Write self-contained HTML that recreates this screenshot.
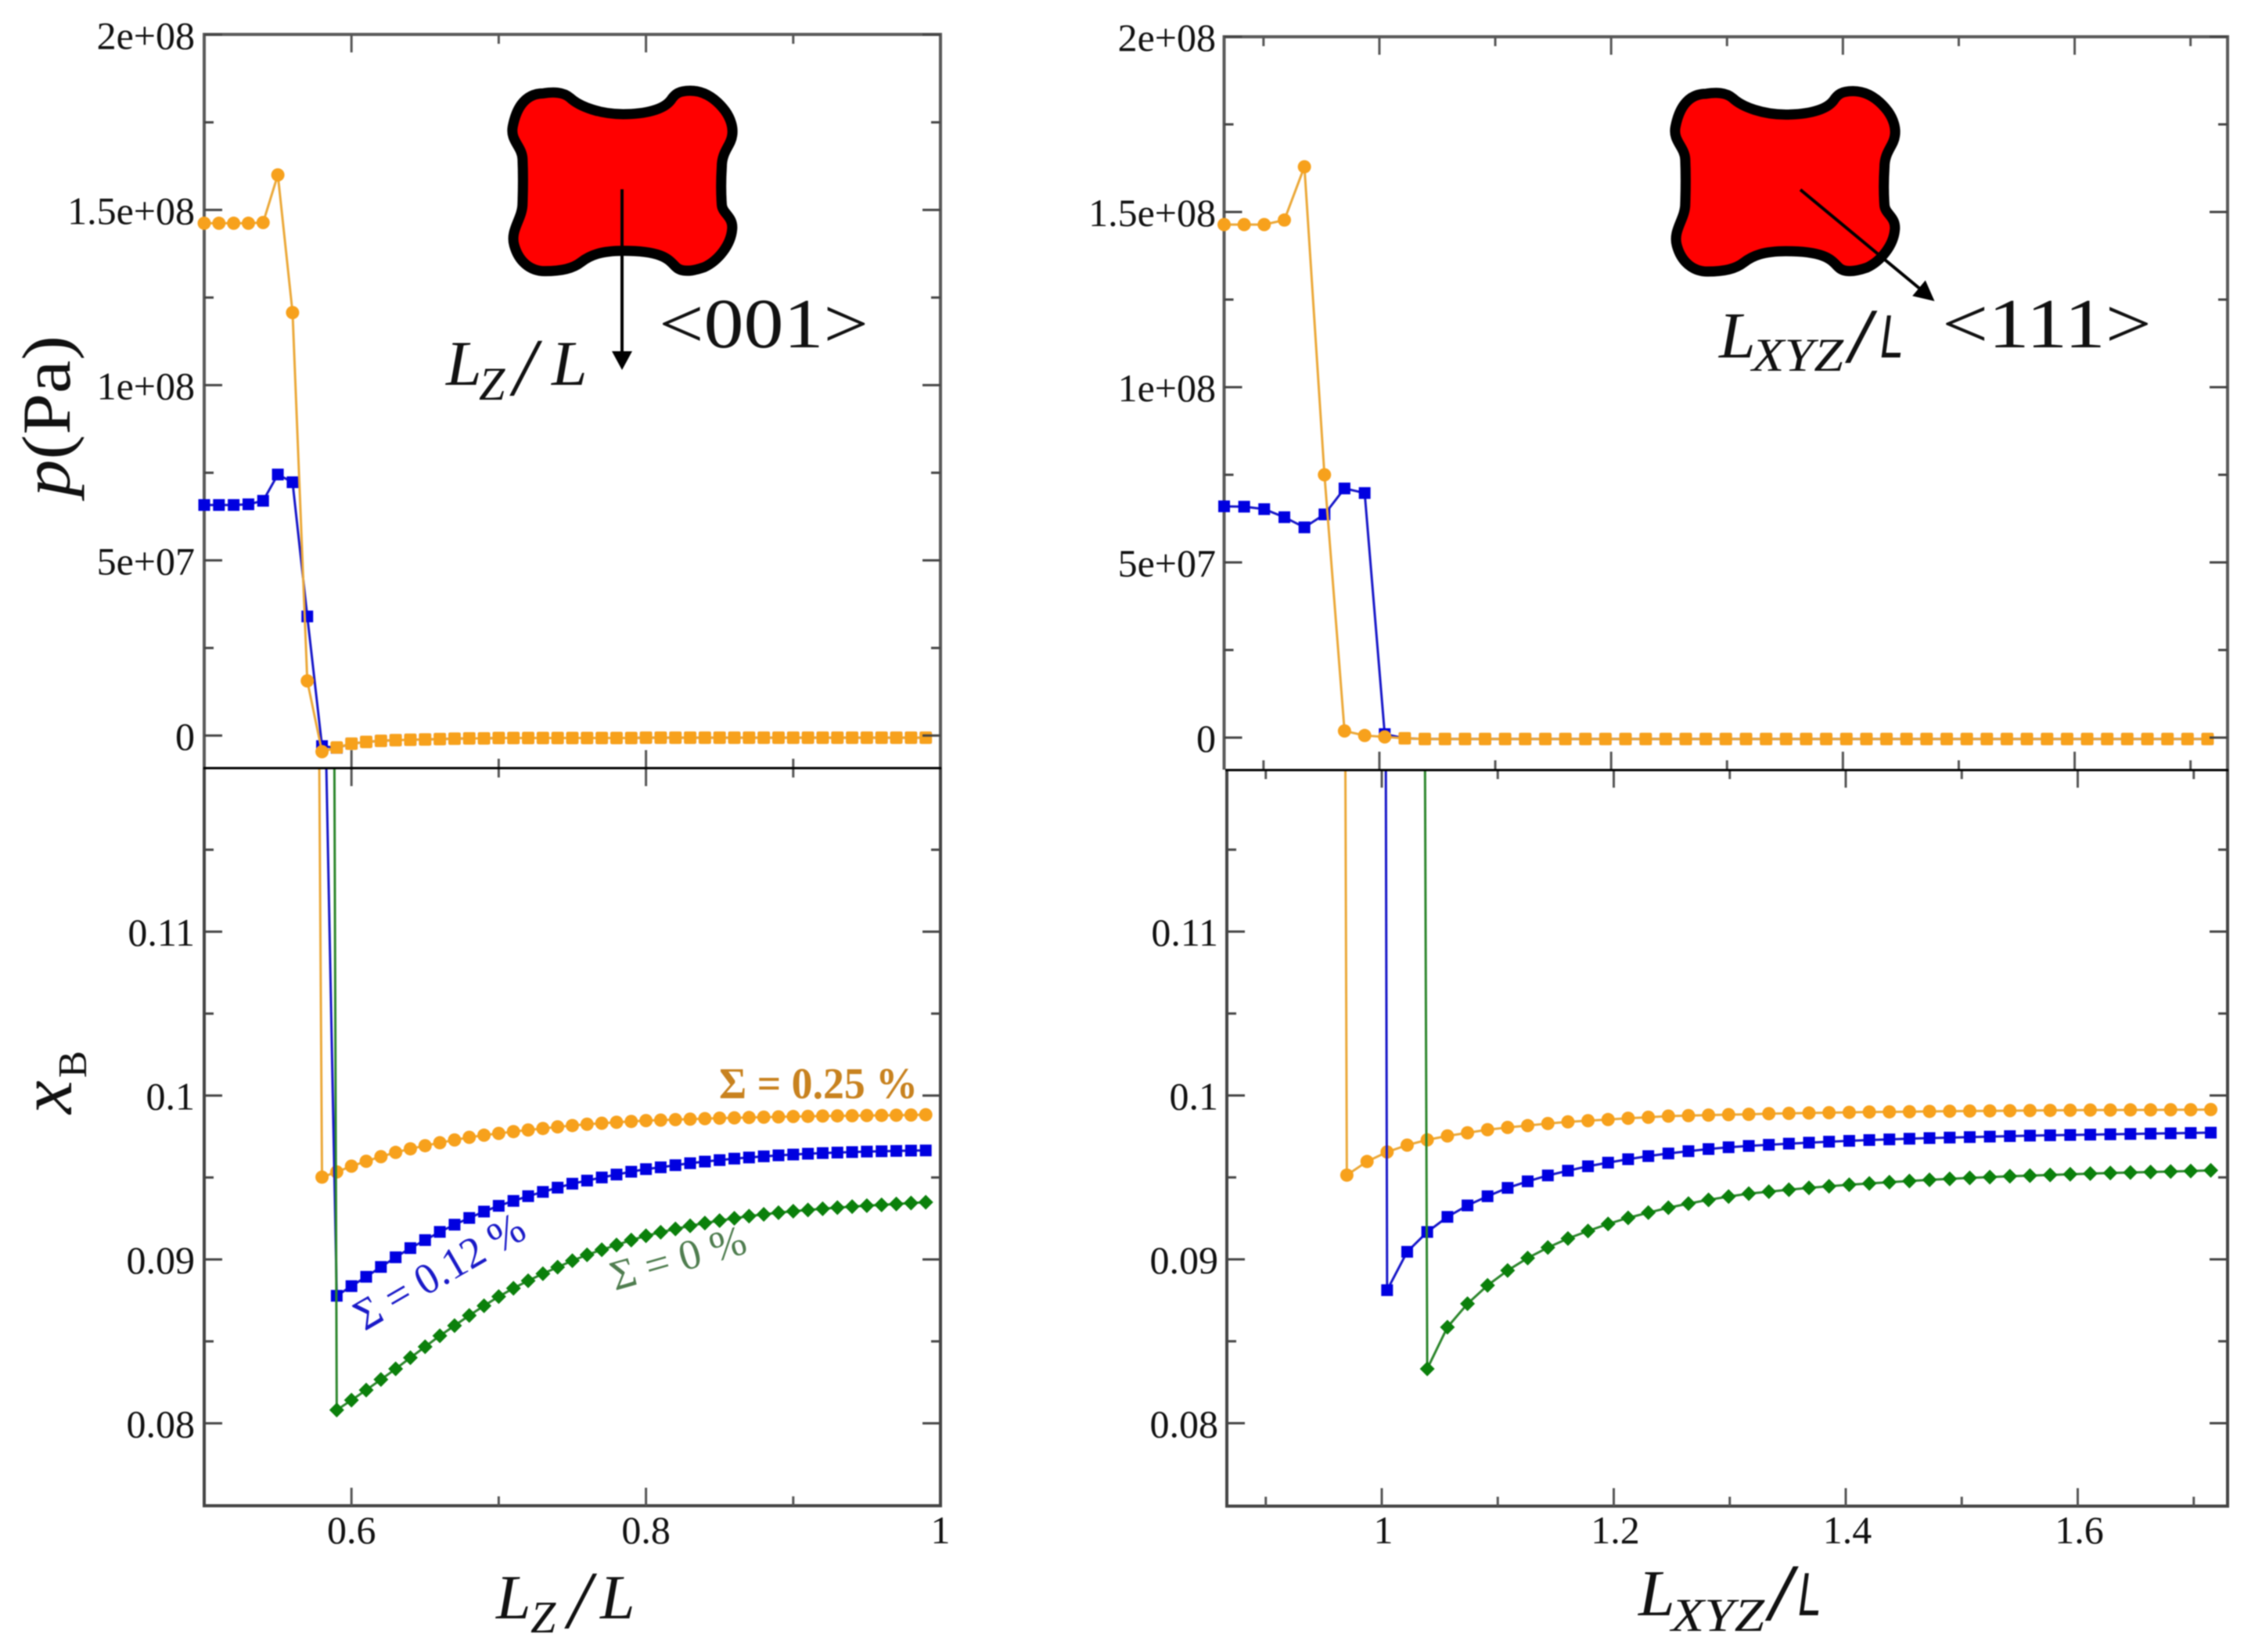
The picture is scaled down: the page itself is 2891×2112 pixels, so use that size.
<!DOCTYPE html>
<html lang="en">
<head>
<meta charset="utf-8">
<title>Pressure and composition profiles</title>
<style>
html,body{margin:0;padding:0;background:#fff;width:2891px;height:2112px;overflow:hidden}
svg{display:block;filter:blur(0.9px)}
text{font-family:"Liberation Serif",serif;fill:#111}
.it{font-style:italic}
</style>
</head>
<body>
<svg id="chart" xmlns="http://www.w3.org/2000/svg" width="2891" height="2112" viewBox="0 0 2891 2112">
  <defs>
    <clipPath id="clipUL"><rect x="240" y="44" width="980" height="938"/></clipPath>
    <clipPath id="clipLL"><rect x="240" y="982" width="980" height="960"/></clipPath>
    <clipPath id="clipUR"><rect x="1545" y="47" width="1320" height="937"/></clipPath>
    <clipPath id="clipLR"><rect x="1545" y="984" width="1320" height="960"/></clipPath>
  </defs>
  <rect x="0" y="0" width="2891" height="2112" fill="#fff"/>

  <g id="frames" fill="none">
    <path d="M261 982V44H1202V982" stroke="#5a5a5a" stroke-width="4"/>
    <path d="M261 982V1925H1202V982" stroke="#444" stroke-width="4"/>
    <path d="M1564.5 984V47H2847V984" stroke="#5a5a5a" stroke-width="4"/>
    <path d="M1568 984V1925.5H2847V984" stroke="#444" stroke-width="4"/>
  </g>

  <g id="marks"></g>
  <g id="ticks"></g>
  <g id="ticklabels" font-size="50"></g>

  <path d="M260 982H1203" stroke="#000" stroke-width="3"/>
  <path d="M1566 984.5H2848" stroke="#000" stroke-width="3"/>

  <!-- precipitate shapes -->
  <g transform="translate(600,80) scale(0.35714,0.33333)">
    <path id="blob" d="M265 118C300 112 335 112 360 135C395 170 470 198 550 198C630 198 695 180 720 145C735 120 750 108 790 108C850 108 890 150 915 185C935 215 945 250 940 280C935 320 903 340 903 400C900 450 900 500 903 545C905 580 945 590 940 640C935 700 890 760 840 785C800 800 760 805 740 785C715 760 700 722 550 722C470 722 430 740 400 765C370 790 330 800 270 800C215 800 175 760 160 700C145 640 190 600 190 540C192 480 192 420 190 370C188 320 145 300 155 245C165 190 190 118 265 118Z" fill="#ff0000" stroke="#000" stroke-width="13" vector-effect="non-scaling-stroke"/>
  </g>
  <g transform="translate(2086,80.5) scale(0.35714,0.33333)">
    <path d="M265 118C300 112 335 112 360 135C395 170 470 198 550 198C630 198 695 180 720 145C735 120 750 108 790 108C850 108 890 150 915 185C935 215 945 250 940 280C935 320 903 340 903 400C900 450 900 500 903 545C905 580 945 590 940 640C935 700 890 760 840 785C800 800 760 805 740 785C715 760 700 722 550 722C470 722 430 740 400 765C370 790 330 800 270 800C215 800 175 760 160 700C145 640 190 600 190 540C192 480 192 420 190 370C188 320 145 300 155 245C165 190 190 118 265 118Z" fill="#ff0000" stroke="#000" stroke-width="13" vector-effect="non-scaling-stroke"/>
  </g>

  <g>
    <path d="M798 242V455" stroke="#000" stroke-width="4" fill="none" transform="translate(-3,0)"/>
    <polygon points="782,449 808,449 795,473" fill="#000"/>
  </g>
  <g>
    <path d="M2301 242.5L2456 371" stroke="#000" stroke-width="4" fill="none"/>
    <polygon points="2460.8,358.4 2444.2,378.4 2472.5,385" fill="#000"/>
  </g>

  <!-- inset labels -->
  <text x="842" y="444" font-size="90" textLength="268" lengthAdjust="spacingAndGlyphs">&lt;001&gt;</text>
  <text x="2482" y="444" font-size="90" textLength="268" lengthAdjust="spacingAndGlyphs">&lt;111&gt;</text>

  <g>
    <text class="it" x="570" y="492" font-size="82">L</text>
    <text class="it" x="612" y="511" font-size="60">Z</text>
    <text class="it" x="656" y="505" font-size="105">/</text>
    <text class="it" x="705" y="492" font-size="82">L</text>
  </g>
  <g>
    <text class="it" x="2197" y="457" font-size="84">L</text>
    <text class="it" x="2239" y="474" font-size="60" textLength="117" lengthAdjust="spacingAndGlyphs">XYZ</text>
    <text class="it" x="2364" y="463" font-size="100" font-weight="bold">/</text>
    <text x="2403" y="457" font-size="78" textLength="30" lengthAdjust="spacingAndGlyphs" style="font-family:'Liberation Sans',sans-serif;font-style:italic">L</text>
  </g>

  <!-- axis titles -->
  <text transform="translate(89,635) rotate(-90)" font-size="88" textLength="206" lengthAdjust="spacingAndGlyphs"><tspan class="it" font-style="italic">p</tspan><tspan>(Pa)</tspan></text>
  <g>
    <text class="it" transform="translate(91,1424) rotate(-90)" font-size="96">x</text>
    <text transform="translate(110,1378) rotate(-90)" font-size="52">B</text>
  </g>
  <g>
    <text class="it" x="634" y="2069" font-size="80">L</text>
    <text class="it" x="678" y="2087" font-size="58">Z</text>
    <text class="it" x="726" y="2081" font-size="105">/</text>
    <text class="it" x="767" y="2069" font-size="80">L</text>
  </g>
  <g>
    <text class="it" x="2094" y="2065" font-size="84">L</text>
    <text class="it" x="2136" y="2085" font-size="60" textLength="119" lengthAdjust="spacingAndGlyphs">XYZ</text>
    <text class="it" x="2262" y="2071" font-size="104" font-weight="bold">/</text>
    <text x="2298" y="2065" font-size="78" textLength="30" lengthAdjust="spacingAndGlyphs" style="font-family:'Liberation Sans',sans-serif;font-style:italic">L</text>
  </g>

  <!-- series annotations -->
  <text x="919" y="1404" font-size="56" font-weight="bold" textLength="254" lengthAdjust="spacingAndGlyphs" style="fill:#c8821f">Σ = 0.25 %</text>
  <text transform="translate(466,1702) rotate(-30)" font-size="56" textLength="242" lengthAdjust="spacingAndGlyphs" style="fill:#1a1ac8">Σ = 0.12 %</text>
  <text transform="translate(786,1650) rotate(-16)" font-size="54" textLength="178" lengthAdjust="spacingAndGlyphs" style="fill:#4f7d4f">Σ = 0 %</text>
</svg>

<script>
/* x categories */
const lzCategories = [0.50,0.51,0.52,0.53,0.54,0.55,0.56,0.57,0.58,0.59,0.60,0.61,0.62,0.63,0.64,0.65,0.66,0.67,0.68,0.69,0.70,0.71,0.72,0.73,0.74,0.75,0.76,0.77,0.78,0.79,0.80,0.81,0.82,0.83,0.84,0.85,0.86,0.87,0.88,0.89,0.90,0.91,0.92,0.93,0.94,0.95,0.96,0.97,0.98,0.99];
const lxyzCategories = [0.866,0.8833,0.9006,0.9180,0.9353,0.9526,0.9699,0.9873,1.0046,1.0219,1.0392,1.0566,1.0739,1.0912,1.1085,1.1258,1.1432,1.1605,1.1778,1.1951,1.2124,1.2298,1.2471,1.2644,1.2817,1.2990,1.3164,1.3337,1.3510,1.3683,1.3856,1.4030,1.4203,1.4376,1.4549,1.4722,1.4896,1.5069,1.5242,1.5415,1.5588,1.5762,1.5935,1.6108,1.6281,1.6454,1.6628,1.6801,1.6974,1.7147];

/* pressure, in units of 1e6 Pa */
const pLzOrange = [146.2,146.2,146.2,146.2,146.4,160,120.7,15.6,-4.6,-3.4,-2.3,-1.8,-1.5,-1.3,-1.2,-1.1,-1,-0.9,-0.8,-0.8,-0.7,-0.7,-0.7,-0.7,-0.7,-0.7,-0.7,-0.7,-0.7,-0.7,-0.6,-0.6,-0.6,-0.6,-0.6,-0.6,-0.6,-0.6,-0.6,-0.6,-0.6,-0.6,-0.6,-0.6,-0.6,-0.6,-0.6,-0.6,-0.6,-0.6];
const pLzBlue = [65.8,65.8,65.8,66,67,74.5,72.3,34,-3,-3.5,-2.3,-1.8,-1.5,-1.3,-1.2,-1.1,-1,-0.9,-0.8,-0.8,-0.7,-0.7,-0.7,-0.7,-0.7,-0.7,-0.7,-0.7,-0.7,-0.7,-0.6,-0.6,-0.6,-0.6,-0.6,-0.6,-0.6,-0.6,-0.6,-0.6,-0.6,-0.6,-0.6,-0.6,-0.6,-0.6,-0.6,-0.6,-0.6,-0.6];
const pLxyzOrange = [146.4,146.4,146.4,147.7,162.9,75,1.9,0.6,0.2,-0.2,-0.4,-0.4,-0.4,-0.4,-0.4,-0.4,-0.4,-0.4,-0.4,-0.4,-0.4,-0.4,-0.4,-0.4,-0.4,-0.4,-0.4,-0.4,-0.4,-0.4,-0.4,-0.4,-0.4,-0.4,-0.4,-0.4,-0.4,-0.4,-0.4,-0.4,-0.4,-0.4,-0.4,-0.4,-0.4,-0.4,-0.4,-0.4,-0.4,-0.4];
const pLxyzBlue = [66,65.9,65.2,62.9,60,63.7,71.1,69.8,1,-0.2,-0.4,-0.4,-0.4,-0.4,-0.4,-0.4,-0.4,-0.4,-0.4,-0.4,-0.4,-0.4,-0.4,-0.4,-0.4,-0.4,-0.4,-0.4,-0.4,-0.4,-0.4,-0.4,-0.4,-0.4,-0.4,-0.4,-0.4,-0.4,-0.4,-0.4,-0.4,-0.4,-0.4,-0.4,-0.4,-0.4,-0.4,-0.4,-0.4,-0.4];

/* boron fraction */
const xbLzOrange = [null,null,null,null,null,null,null,0.23,0.09502,0.09534,0.09569,0.09599,0.09627,0.09653,0.09675,0.09694,0.09712,0.09729,0.09745,0.09758,0.09769,0.0978,0.0979,0.09799,0.09809,0.09817,0.09825,0.09831,0.09837,0.09842,0.09847,0.0985,0.09853,0.09856,0.09859,0.09862,0.09864,0.09866,0.09868,0.0987,0.09872,0.09873,0.09875,0.09876,0.09877,0.09878,0.09879,0.0988,0.09881,0.09883];
const xbLzBlue = [null,null,null,null,null,null,null,null,0.1334,0.08778,0.08837,0.08894,0.08954,0.09013,0.09069,0.09118,0.09168,0.09212,0.09253,0.09292,0.09327,0.09357,0.09386,0.09412,0.09438,0.09462,0.09481,0.095,0.09518,0.09535,0.09551,0.09562,0.09575,0.09587,0.09597,0.09606,0.09615,0.09622,0.09629,0.09635,0.0964,0.09645,0.09649,0.09652,0.09655,0.09658,0.0966,0.09662,0.09664,0.09665];
const xbLzGreen = [null,null,null,null,null,null,null,null,0.328,0.08081,0.08141,0.08203,0.08267,0.08332,0.084,0.08467,0.08534,0.08596,0.08658,0.08717,0.08773,0.08824,0.0887,0.08913,0.08953,0.08992,0.09028,0.09059,0.09088,0.09118,0.09144,0.09166,0.09186,0.09205,0.09222,0.09237,0.09251,0.09264,0.09275,0.09285,0.09294,0.09302,0.09309,0.09316,0.09322,0.09328,0.09333,0.09338,0.09344,0.09349];
const xbLxyzOrange = [null,null,null,null,null,0.43,0.09514,0.09597,0.09655,0.09697,0.09729,0.09753,0.09772,0.09791,0.09805,0.09816,0.09829,0.09839,0.09846,0.09853,0.09861,0.09867,0.09874,0.09877,0.0988,0.09883,0.09885,0.09889,0.09891,0.09893,0.09895,0.09897,0.09899,0.099,0.09901,0.09903,0.09904,0.09905,0.09906,0.09907,0.09908,0.09909,0.0991,0.09911,0.09911,0.09912,0.09912,0.09913,0.09913,0.09914];
const xbLxyzBlue = [null,null,null,null,null,null,null,0.59,0.08812,0.09046,0.09167,0.09259,0.09329,0.09385,0.09436,0.09476,0.09512,0.09541,0.09568,0.0959,0.09611,0.0963,0.09646,0.0966,0.09673,0.09684,0.09692,0.09699,0.09706,0.09712,0.09718,0.09723,0.09728,0.09732,0.09736,0.0974,0.09743,0.09746,0.09749,0.09752,0.09755,0.09757,0.09759,0.09761,0.09763,0.09765,0.09767,0.09769,0.09771,0.09773];
const xbLxyzGreen = [null,null,null,null,null,null,null,null,null,0.415,0.08332,0.08586,0.08729,0.08841,0.08932,0.09008,0.09072,0.09127,0.09173,0.09216,0.09253,0.09285,0.09315,0.0934,0.09363,0.09383,0.09401,0.09413,0.09425,0.09436,0.09446,0.09455,0.09463,0.09471,0.09478,0.09485,0.09491,0.09497,0.09502,0.09507,0.09511,0.09515,0.09519,0.09523,0.09527,0.0953,0.09533,0.09536,0.09539,0.09543];

/* ticks */
const pMajorTicks = [0,50,100,150,200];
const pMinorTicks = [25,75,125,175];
const pTickLabels = ['0','5e+07','1e+08','1.5e+08','2e+08'];
const xbMajorTicks = [0.08,0.09,0.1,0.11];
const xbMinorTicks = [0.085,0.095,0.105,0.115];
const xbTickLabels = ['0.08','0.09','0.1','0.11'];
const lzMajorTicks = [0.6,0.8];
const lzMinorTicks = [0.7,0.9];
const lzTickLabelValues = [0.6,0.8,1];
const lzTickLabels = ['0.6','0.8','1'];
const lxyzMajorTicks = [1,1.2,1.4,1.6];
const lxyzMinorTicks = [0.9,1.1,1.3,1.5,1.7];
const lxyzTickLabels = ['1','1.2','1.4','1.6'];

/* axis functions */
const xLzUpper = v => 261 + (v - 0.5) * 1882;
const xLzLower = v => 261 + (v - 0.5) * 1882;
const xLxyzUpper = v => 1564.5 + (v - 0.866) * 1481;
const xLxyzLower = v => 1766 + (v - 1) * 1482.5;
const yPLeft = v => 940.4 - v * 4.48;
const yPRight = v => 943 - v * 4.48;
const yXbLeft = v => 1819.6 - (v - 0.08) * 20950;
const yXbRight = v => 1819.5 - (v - 0.08) * 20950;

const NS = 'http://www.w3.org/2000/svg';
const marks = document.getElementById('marks');
const tickGroup = document.getElementById('ticks');
const labelGroup = document.getElementById('ticklabels');
const COLORS = { orange:'#f7a11c', blue:'#0000e0', green:'#0b800b' };
const LINES = { orange:'#eba838', blue:'#1616c8', green:'#2c862c' };

function make(tag, attrs, parent){
  const e = document.createElementNS(NS, tag);
  for (const k in attrs) e.setAttribute(k, attrs[k]);
  parent.appendChild(e);
  return e;
}

function drawMarker(group, kind, px, py, squareOrange){
  let m;
  if (kind === 'orange' && squareOrange) {
    m = make('rect', {x:px-8, y:py-8, width:16, height:16, rx:2.5, fill:COLORS.orange}, group);
  } else if (kind === 'orange') {
    m = make('circle', {cx:px, cy:py, r:8.5, fill:COLORS.orange}, group);
  } else if (kind === 'blue') {
    m = make('rect', {x:px-7.5, y:py-7.5, width:15, height:15, fill:COLORS.blue}, group);
  } else {
    m = make('polygon', {points:(px-9.5)+','+py+' '+px+','+(py-9.5)+' '+(px+9.5)+','+py+' '+px+','+(py+9.5), fill:COLORS.green}, group);
  }
  
  
}

function drawSeries(name, kind, xs, ys, xFn, yFn, clip, squareFrom){
  const g = make('g', {'clip-path':'url(#' + clip + ')'}, marks);
  
  
  let d = '';
  ys.forEach((v, i) => {
    if (v === null) return;
    d += (d ? 'L' : 'M') + xFn(xs[i]).toFixed(2) + ' ' + yFn(v).toFixed(2);
  });
  const line = make('path', {d:d, fill:'none', stroke:LINES[kind], 'stroke-width':3}, g);
  
  
  ys.forEach((v, i) => {
    if (v === null) return;
    drawMarker(g, kind, xFn(xs[i]), yFn(v), squareFrom !== undefined && i >= squareFrom);
  });
}

function tickLine(x1, y1, x2, y2, color){
  const t = make('line', {x1:x1, y1:y1, x2:x2, y2:y2, stroke:color, 'stroke-width':3}, tickGroup);
  
  
}

function label(txt, x, y, anchor){
  const t = make('text', {x:x, y:y, 'text-anchor':anchor}, labelGroup);
  t.textContent = txt;
  
  
}

function yTicks(majors, minors, yFn, left, right){
  const c = '#444';
  majors.forEach(v => { tickLine(left, yFn(v), left + 23, yFn(v), c); tickLine(right, yFn(v), right - 23, yFn(v), c); });
  minors.forEach(v => { tickLine(left, yFn(v), left + 12, yFn(v), c); tickLine(right, yFn(v), right - 12, yFn(v), c); });
}

function xTicks(majors, minors, xFn, y, dir){
  const c = '#555';
  majors.forEach(v => tickLine(xFn(v), y, xFn(v), y + dir * 23, c));
  minors.forEach(v => tickLine(xFn(v), y, xFn(v), y + dir * 12, c));
}

/* series: upper panels draw blue then orange; lower panels orange, blue, green */
drawSeries('pressure-lz-sigma-012', 'blue', lzCategories, pLzBlue, xLzUpper, yPLeft, 'clipUL');
drawSeries('pressure-lz-sigma-025', 'orange', lzCategories, pLzOrange, xLzUpper, yPLeft, 'clipUL', 9);
drawSeries('pressure-lxyz-sigma-012', 'blue', lxyzCategories, pLxyzBlue, xLxyzUpper, yPRight, 'clipUR');
drawSeries('pressure-lxyz-sigma-025', 'orange', lxyzCategories, pLxyzOrange, xLxyzUpper, yPRight, 'clipUR', 9);

drawSeries('xb-lz-sigma-025', 'orange', lzCategories, xbLzOrange, xLzLower, yXbLeft, 'clipLL');
drawSeries('xb-lz-sigma-012', 'blue', lzCategories, xbLzBlue, xLzLower, yXbLeft, 'clipLL');
drawSeries('xb-lz-sigma-0', 'green', lzCategories, xbLzGreen, xLzLower, yXbLeft, 'clipLL');
drawSeries('xb-lxyz-sigma-025', 'orange', lxyzCategories, xbLxyzOrange, xLxyzLower, yXbRight, 'clipLR');
drawSeries('xb-lxyz-sigma-012', 'blue', lxyzCategories, xbLxyzBlue, xLxyzLower, yXbRight, 'clipLR');
drawSeries('xb-lxyz-sigma-0', 'green', lxyzCategories, xbLxyzGreen, xLxyzLower, yXbRight, 'clipLR');

/* ticks */
yTicks(pMajorTicks, pMinorTicks, yPLeft, 261, 1202);
yTicks(pMajorTicks, pMinorTicks, yPRight, 1564.5, 2847);
yTicks(xbMajorTicks, xbMinorTicks, yXbLeft, 261, 1202);
yTicks(xbMajorTicks, xbMinorTicks, yXbRight, 1568, 2847);

xTicks(lzMajorTicks, lzMinorTicks, xLzUpper, 44, 1);
xTicks(lzMajorTicks, lzMinorTicks, xLzUpper, 982, -1);
xTicks(lzMajorTicks, lzMinorTicks, xLzLower, 982, 1);
xTicks(lzMajorTicks, lzMinorTicks, xLzLower, 1925, -1);
xTicks(lxyzMajorTicks, lxyzMinorTicks, xLxyzUpper, 47, 1);
xTicks(lxyzMajorTicks, lxyzMinorTicks, xLxyzUpper, 984, -1);
xTicks(lxyzMajorTicks, lxyzMinorTicks, xLxyzLower, 984, 1);
xTicks(lxyzMajorTicks, lxyzMinorTicks, xLxyzLower, 1925.5, -1);

/* tick labels */
pMajorTicks.forEach((v, i) => label(pTickLabels[i], 249, yPLeft(v) + 18, 'end'));
pMajorTicks.forEach((v, i) => label(pTickLabels[i], 1554, yPRight(v) + 18, 'end'));
xbMajorTicks.forEach((v, i) => label(xbTickLabels[i], 249, yXbLeft(v) + 18, 'end'));
xbMajorTicks.forEach((v, i) => label(xbTickLabels[i], 1557, yXbRight(v) + 18, 'end'));
lzTickLabelValues.forEach((v, i) => label(lzTickLabels[i], xLzLower(v), 1973, 'middle'));
lxyzMajorTicks.forEach((v, i) => label(lxyzTickLabels[i], xLxyzLower(v) + 2, 1973, 'middle'));
</script>
</body>
</html>
